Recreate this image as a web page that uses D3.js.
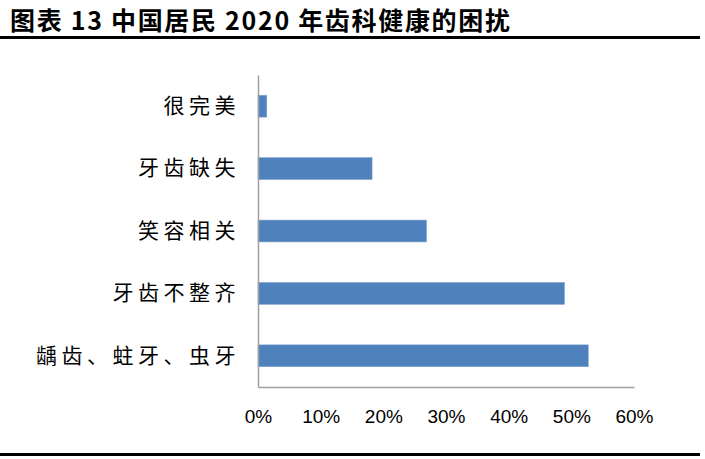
<!DOCTYPE html>
<html><head><meta charset="utf-8">
<script src="https://cdn.jsdelivr.net/npm/d3@7"></script>
<style>body{margin:0;background:#fff}svg{display:block}</style>
</head><body>
<script>
const title = "图表 13 中国居民 2020 年齿科健康的困扰";
const categories = ["很完美","牙齿缺失","笑容相关","牙齿不整齐","龋齿、蛀牙、虫牙"];
const values = [1.4, 18.2, 26.9, 48.9, 52.7];
const xTicks = [0,10,20,30,40,50,60];

const W=705,H=459;
const svg=d3.select("body").append("svg").attr("width",W).attr("height",H);

svg.append("text").attr("x",10).attr("y",30)
  .attr("font-family","'Noto Sans CJK SC'").attr("font-weight","bold")
  .attr("font-size",25).attr("textLength",500).attr("fill","#000").text(title);
svg.append("line").attr("x1",0).attr("x2",700).attr("y1",37.5).attr("y2",37.5)
  .attr("stroke","#000").attr("stroke-width",3);
svg.append("line").attr("x1",0).attr("x2",700).attr("y1",454.5).attr("y2",454.5)
  .attr("stroke","#000").attr("stroke-width",3);

const x=d3.scaleLinear().domain([0,60]).range([258,634]);
const y=d3.scaleBand().domain(categories).range([75,387]).paddingInner(0.65).paddingOuter(0.325);

svg.selectAll("rect.bar").data(categories).join("rect").attr("class","bar")
  .attr("x",x(0)).attr("y",d=>y(d))
  .attr("width",(d,i)=>x(values[i])-x(0)).attr("height",y.bandwidth())
  .attr("fill","#4f81bd").attr("stroke","#7fa3d3").attr("stroke-width",0.6);

const gx=svg.append("g").attr("transform","translate(0,387)")
  .call(d3.axisBottom(x).tickValues(xTicks).tickSize(0).tickPadding(23).tickFormat(d=>d+"%"));
gx.select(".domain").attr("stroke","#a0a0a0").attr("stroke-width",1.5);
gx.selectAll("text").attr("font-family","'Liberation Sans', Arial, sans-serif").attr("font-size",19).attr("fill","#000");

const gy=svg.append("g").attr("transform","translate(258,0)")
  .call(d3.axisLeft(y).tickSize(0).tickPadding(0));
gy.select(".domain").attr("stroke","#a0a0a0").attr("stroke-width",1.5);
gy.selectAll("text").attr("x",-18).attr("font-family","'Noto Sans CJK SC'")
  .attr("font-size",21).attr("letter-spacing",4.5).attr("fill","#000");
</script>
</body></html>
